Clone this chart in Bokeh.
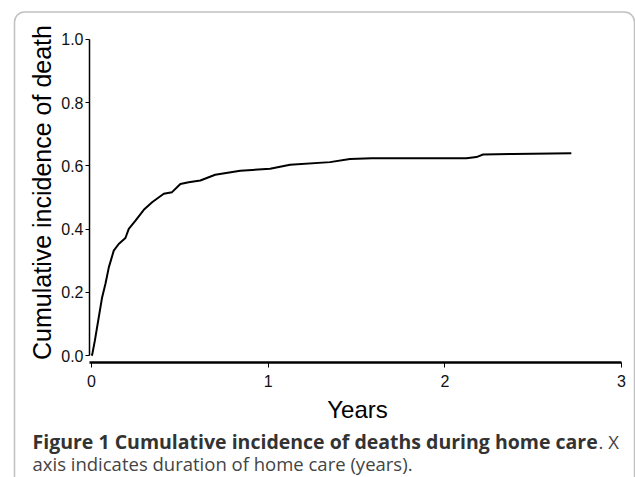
import math
from bokeh.plotting import figure
from bokeh.models import Range1d, FixedTicker, Label, BoxAnnotation
from bokeh.embed import file_html
from bokeh.resources import INLINE

# ---- data ----
years = [0.0, 0.004, 0.019, 0.041, 0.060, 0.079, 0.098, 0.126, 0.154, 0.192,
         0.211, 0.249, 0.296, 0.343, 0.409, 0.456, 0.503, 0.550, 0.616, 0.700,
         0.842, 1.011, 1.124, 1.350, 1.463, 1.586, 2.122, 2.179, 2.216, 2.386, 2.716]
incidence = [0.0, 0.003, 0.047, 0.121, 0.184, 0.227, 0.279, 0.332, 0.353, 0.372,
             0.401, 0.427, 0.461, 0.485, 0.512, 0.517, 0.543, 0.548, 0.554, 0.572,
             0.585, 0.591, 0.604, 0.612, 0.622, 0.624, 0.624, 0.628, 0.636, 0.638, 0.640]

x_ticks = [0, 1, 2, 3]
x_tick_labels = ["0", "1", "2", "3"]
y_ticks = [0.0, 0.2, 0.4, 0.6, 0.8, 1.0]
y_tick_labels = ["0.0", "0.2", "0.4", "0.6", "0.8", "1.0"]

x_title = "Years"
y_title = "Cumulative incidence of death"
caption_bold = "Figure 1 Cumulative incidence of deaths during home care"
caption_rest1 = ". X"
caption_line2 = "axis indicates duration of home care (years)."

W, H = 635, 477

# The frame covers the whole canvas so that captions and the rounded box
# (drawn in canvas units) are not clipped; the axes sit at fixed locations.
X0, X1 = -0.5151, 3.0792
Y0, Y1 = -0.3859, 1.1234
X_AXIS_AT = -0.022
Y_AXIS_AT = -0.0113

p = figure(width=W, height=H, output_backend="svg", toolbar_location=None,
           x_range=Range1d(X0, X1), y_range=Range1d(Y0, Y1),
           min_border=0)
p.outline_line_color = None
p.xgrid.visible = False
p.ygrid.visible = False
p.background_fill_color = "white"
p.border_fill_color = "white"

p.line(years, incidence, line_color="black", line_width=2)

ax = p.xaxis[0]
ax.fixed_location = X_AXIS_AT
ax.ticker = FixedTicker(ticks=x_ticks)
ax.major_label_overrides = {t: l for t, l in zip(x_ticks, x_tick_labels)}
ax.bounds = (Y_AXIS_AT, 3.0)
ax.axis_line_width = 2.5
ax.axis_line_color = "black"
ax.major_tick_out = 5
ax.major_tick_in = 0
ax.major_tick_line_color = "black"
ax.minor_tick_line_color = None
ax.major_label_text_font = "Liberation Sans"
ax.major_label_text_font_size = "16px"
ax.major_label_text_color = "#111111"
ax.major_label_standoff = 8

ay = p.yaxis[0]
ay.fixed_location = Y_AXIS_AT
ay.ticker = FixedTicker(ticks=y_ticks)
ay.major_label_overrides = {t: l for t, l in zip(y_ticks, y_tick_labels)}
ay.bounds = (0.0, 1.0)
ay.axis_line_width = 1.5
ay.axis_line_color = "black"
ay.major_tick_out = 4
ay.major_tick_in = 0
ay.major_tick_line_color = "black"
ay.minor_tick_line_color = None
ay.major_label_text_font = "Liberation Sans"
ay.major_label_text_font_size = "16px"
ay.major_label_text_color = "#111111"
ay.major_label_standoff = 2

# rounded frame around the figure (canvas units, origin top-left)
p.add_layout(BoxAnnotation(left=14, right=634, top=11.5, bottom=530,
                           left_units="canvas", right_units="canvas",
                           top_units="canvas", bottom_units="canvas",
                           fill_alpha=0, line_color="#333333", line_width=1.5,
                           border_radius=10))

p.add_layout(Label(x=357, y=409, x_units="canvas", y_units="canvas",
                   text=x_title, text_font="Liberation Sans", text_font_size="24px",
                   text_align="center", text_baseline="alphabetic", text_color="black"))

p.add_layout(Label(x=41, y=192, x_units="canvas", y_units="canvas",
                   text=y_title, text_font="Liberation Sans", text_font_size="25px",
                   text_align="center", text_baseline="alphabetic", text_color="black",
                   angle=math.pi / 2))

p.add_layout(Label(x=32, y=440.5, x_units="canvas", y_units="canvas",
                   text=caption_bold, text_font="Open Sans", text_font_size="19.5px",
                   text_font_style="bold", text_align="left",
                   text_baseline="alphabetic", text_color="#333333"))
p.add_layout(Label(x=598, y=440.5, x_units="canvas", y_units="canvas",
                   text=caption_rest1, text_font="Open Sans", text_font_size="18.5px",
                   text_align="left", text_baseline="alphabetic", text_color="#444444"))
p.add_layout(Label(x=32, y=463, x_units="canvas", y_units="canvas",
                   text=caption_line2, text_font="Open Sans", text_font_size="18.5px",
                   text_align="left", text_baseline="alphabetic", text_color="#444444"))

open("out.html", "w").write(file_html(p, INLINE))
